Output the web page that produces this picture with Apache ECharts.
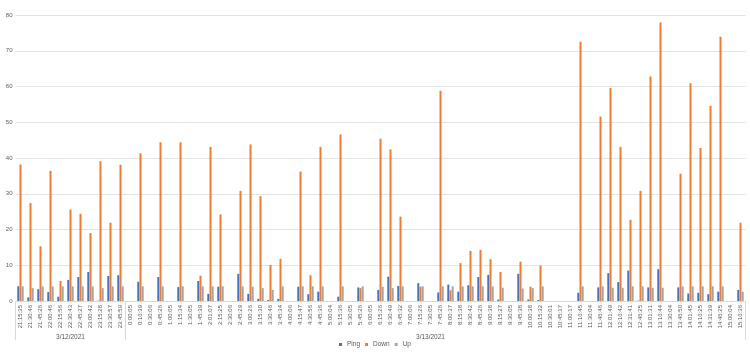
<!DOCTYPE html>
<html>
<head>
<meta charset="utf-8">
<script src="https://cdn.jsdelivr.net/npm/echarts@6/dist/echarts.min.js"></script>
<style>
html,body{margin:0;padding:0;background:#fff;}
#chart{width:750px;height:357px;}
</style>
</head>
<body>
<div id="chart"></div>
<script>
const categories = [
 '21:15:35','21:30:46','21:45:26','22:00:46','22:15:56','22:30:43','22:45:27','23:00:42','23:15:28','23:30:57','23:45:59',
 '0:00:05','0:16:39','0:30:06','0:45:26','1:00:05','1:15:34','1:30:05','1:45:39','2:01:07','2:15:25','2:30:06','2:45:29',
 '3:00:26','3:15:30','3:30:46','3:45:34','4:00:06','4:15:47','4:30:56','4:45:36','5:00:04','5:15:36','5:30:05','5:45:26',
 '6:00:05','6:15:26','6:30:49','6:45:32','7:00:06','7:15:26','7:30:05','7:45:26','8:00:37','8:15:38','8:30:42','8:45:26',
 '9:00:38','9:15:27','9:30:05','9:45:38','10:00:38','10:15:32','10:30:01','10:45:17','11:00:17','11:16:45','11:30:04','11:46:46',
 '12:01:49','12:16:42','12:31:41','12:46:25','13:01:31','13:16:44','13:30:04','13:46:50','14:01:45','14:16:25','14:31:39','14:46:25',
 '15:00:04','15:16:36'
];
const dateGroups = ['3/12/2021','3/13/2021'];
const groupSizes = [11, 62];

const ping = [4.1,1.0,3.3,2.5,1.2,5.9,6.7,8.1,0.1,7.0,7.2,
 0,5.4,0,6.7,0,3.9,0,5.6,2.0,4.0,0,7.6,
 2.0,0.6,0.3,0.6,0,4.0,1.9,2.6,0,1.2,0,3.8,
 0,3.1,6.8,4.2,0,5.0,0,2.4,4.6,2.6,4.4,6.7,
 7.3,0.4,0,7.6,0.4,0.3,0,0,0,2.3,0,3.8,
 7.8,5.3,8.5,0.1,3.8,8.9,0,3.8,2.1,2.3,1.9,2.6,
 0,3.1];
const down = [38.2,27.4,15.3,36.4,5.6,25.6,24.4,19.0,39.1,21.9,38.1,
 0,41.3,0,44.4,0,44.4,0,7.1,43.1,24.2,0,30.8,
 43.8,29.3,10.1,11.8,0,36.2,7.2,43.1,0,46.6,0,3.6,
 0,45.4,42.4,23.6,0,4.0,0,58.8,3.0,10.6,14.0,14.3,
 11.7,8.1,0,11.0,4.0,9.9,0,0,0,72.5,0,51.6,
 59.6,43.1,22.7,30.8,62.8,77.9,0,35.6,60.9,42.8,54.6,73.9,
 0,21.9];
const up = [4.1,3.6,4.1,4.1,4.1,4.1,4.1,4.1,3.6,4.1,4.1,
 0,4.1,0,4.1,0,4.1,0,4.1,4.1,4.1,0,4.1,
 4.0,3.6,3.1,4.1,0,4.1,4.1,4.1,0,4.1,0,4.1,
 0,4.0,3.6,4.1,0,4.1,0,4.1,4.1,4.1,4.1,4.1,
 4.1,3.7,0,3.5,3.6,4.1,0,0,0,4.1,0,4.1,
 3.7,3.7,4.1,4.1,3.7,3.7,0,4.1,4.1,4.1,4.1,4.1,
 0,2.6];
const yTicks = [0,10,20,30,40,50,60,70,80];

// group boundaries and label positions
const boundaries = [];
const groupLabelIdx = {};
let acc = 0;
groupSizes.forEach((n, g) => {
  boundaries.push(acc);
  groupLabelIdx[acc + Math.floor((n - 1) / 2)] = dateGroups[g];
  acc += n;
});

const font = 'Liberation Sans, Arial, sans-serif';
const chart = echarts.init(document.getElementById('chart'), null, {renderer: 'canvas'});
const barCommon = {type: 'bar', barWidth: 2, barGap: '10%', xAxisIndex: 0};
chart.setOption({
  animation: false,
  grid: {left: 15.5, right: 4.5, top: 15, bottom: 56, containLabel: false},
  legend: {
    bottom: 4, left: 'center', itemWidth: 3, itemHeight: 3, itemGap: 5,
    icon: 'rect',
    textStyle: {fontSize: 6.5, color: '#595959', fontFamily: font},
    data: ['Ping', 'Down', 'Up']
  },
  xAxis: [{
    type: 'category', data: categories, position: 'bottom',
    axisLine: {lineStyle: {color: '#d9d9d9', width: 1}},
    axisTick: {show: true, alignWithLabel: false, length: 39,
      interval: (idx) => boundaries.indexOf(idx) >= 0,
      lineStyle: {color: '#d9d9d9'}},
    axisLabel: {rotate: 90, interval: 0, fontSize: 6, color: '#595959', fontFamily: font, margin: 4},
    splitLine: {show: false}
  }, {
    type: 'category', data: categories, position: 'bottom', offset: 30,
    axisLine: {show: false}, axisTick: {show: false}, splitLine: {show: false},
    axisLabel: {interval: (idx) => groupLabelIdx[idx] !== undefined,
      formatter: (v, idx) => groupLabelIdx[idx] || '',
      fontSize: 6.5, color: '#595959', fontFamily: font, margin: 3}
  }],
  yAxis: {
    type: 'value', min: yTicks[0], max: yTicks[yTicks.length - 1], interval: 10,
    axisLine: {show: false}, axisTick: {show: false},
    axisLabel: {fontSize: 6, color: '#595959', fontFamily: font, margin: 3},
    splitLine: {lineStyle: {color: '#e3e3e3', width: 1}}
  },
  series: [
    Object.assign({name: 'Ping', data: ping, itemStyle: {color: '#4472C4'}}, barCommon),
    Object.assign({name: 'Down', data: down, itemStyle: {color: '#ED7D31'}}, barCommon),
    Object.assign({name: 'Up', data: up, itemStyle: {color: '#A5A5A5'}}, barCommon)
  ]
});
</script>
</body>
</html>
